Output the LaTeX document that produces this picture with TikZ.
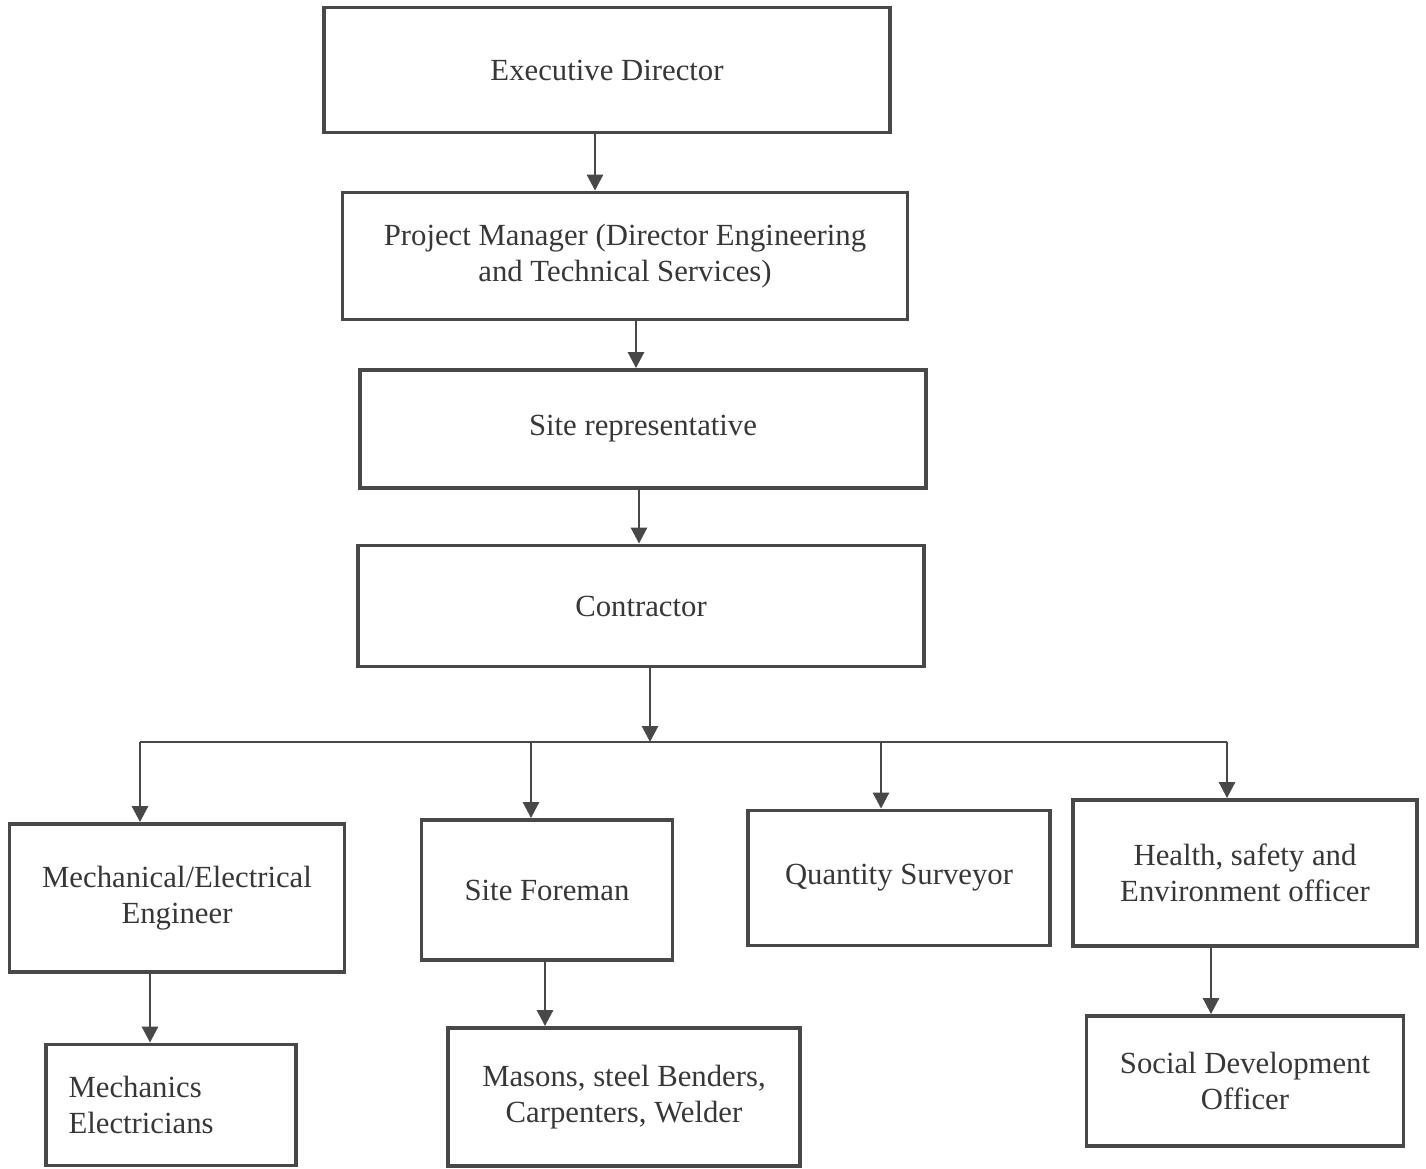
\documentclass[tikz,border=0pt]{standalone}
\usepackage{fontspec}
\setmainfont{Liberation Serif}
\definecolor{ChartLine}{RGB}{72,72,72}
\definecolor{ChartText}{RGB}{55,55,55}
\usetikzlibrary{arrows.meta}

\tikzset{
  post/.style={draw=ChartLine, line width=2.2pt, rectangle, inner sep=0pt,
    align=center, text=ChartText, font=\fontsize{17.5}{20.5}\selectfont},
  link/.style={draw=ChartLine, line width=1.6pt,
    -{Triangle[length=0.32cm,width=0.32cm]}},
}

\begin{document}
\begin{tikzpicture}[x=0.02cm, y=-0.02cm]
\useasboundingbox (0,0) rectangle (1426,1169);

% top chain
\node [post, minimum width=11.32cm, minimum height=2.5cm] (Director) at (607,70) {Executive Director};
\node [post, minimum width=11.3cm, minimum height=2.54cm] (Manager) at (625,256) {Project Manager (Director Engineering\\and Technical Services)};
\node [post, minimum width=11.32cm, minimum height=2.36cm] (SiteRep) at (643,429) {Site representative};
\node [post, minimum width=11.32cm, minimum height=2.42cm] (Contractor) at (641,606) {Contractor};

% second level
\node [post, minimum width=6.7cm, minimum height=2.96cm] (Engineer) at (177,898) {Mechanical/Electrical\\Engineer};
\node [post, minimum width=5.02cm, minimum height=2.8cm] (Foreman) at (547,890) {Site Foreman};
\node [post, minimum width=6.04cm, minimum height=2.7cm] (Surveyor) at (899,878) {Quantity Surveyor};
\node [post, minimum width=6.88cm, minimum height=2.92cm] (Health) at (1245,873) {Health, safety and\\Environment officer};

% third level
\node [post, align=left, text width=4.1cm, inner xsep=0.45cm, minimum height=2.42cm] (Mechanics) at (171,1105) {Mechanics\\Electricians};
\node [post, minimum width=7.04cm, minimum height=2.76cm] (Masons) at (624,1097) {Masons, steel Benders,\\Carpenters, Welder};
\node [post, minimum width=6.34cm, minimum height=2.6cm] (Social) at (1245,1081) {Social Development\\Officer};

\draw [link] (595,0 |- Director.south) -- (595,0 |- Manager.north);
\draw [link] (636,0 |- Manager.south) -- (636,0 |- SiteRep.north);
\draw [link] (639,0 |- SiteRep.south) -- (639,0 |- Contractor.north);

% bus to the second level
\coordinate (BusL) at (140,742);
\coordinate (BusC) at (650,742);
\coordinate (BusR) at (1227,742);
\draw [ChartLine, line width=1.1pt] (BusL) -- (BusR);
\draw [link] (650,0 |- Contractor.south) -- (BusC);
\draw [link] (BusL) -- (BusL |- Engineer.north);
\draw [link] (531,742) -- (531,0 |- Foreman.north);
\draw [link] (881,742) -- (881,0 |- Surveyor.north);
\draw [link] (BusR) -- (BusR |- Health.north);

\draw [link] (150,0 |- Engineer.south) -- (150,0 |- Mechanics.north);
\draw [link] (545,0 |- Foreman.south) -- (545,0 |- Masons.north);
\draw [link] (1211,0 |- Health.south) -- (1211,0 |- Social.north);

\end{tikzpicture}
\end{document}
